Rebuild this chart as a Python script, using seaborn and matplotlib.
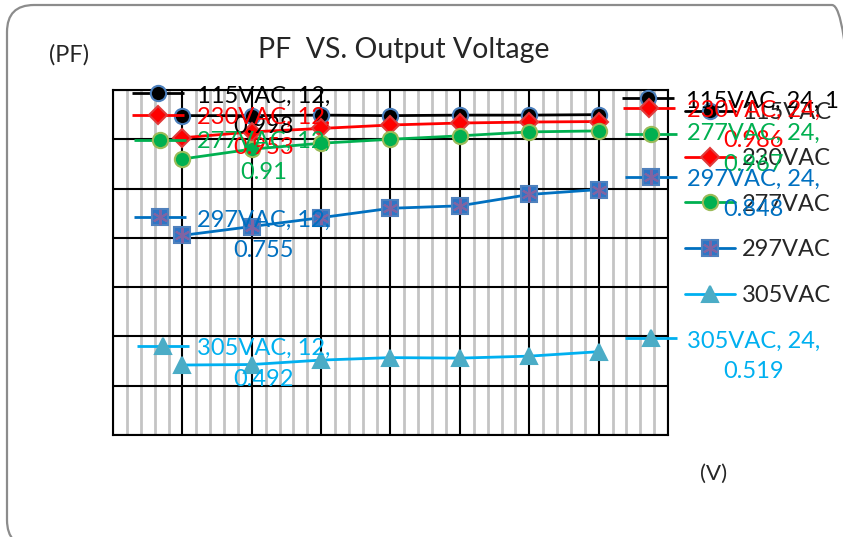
import pandas as pd
import numpy as np
import matplotlib
matplotlib.use('Agg')
import matplotlib.pyplot as plt
import seaborn as sns
from matplotlib.transforms import offset_copy, IdentityTransform
from matplotlib.patches import FancyBboxPatch

# Datos: voltaje de salida (V) y factor de potencia por tension de entrada
voltaje = [12, 14, 16, 18, 20, 22, 24]
series = ['115VAC', '230VAC', '277VAC', '297VAC', '305VAC']
pf_115 = [0.998, 0.998, 0.999, 0.998, 0.999, 0.999, 1.0]
pf_230 = [0.953, 0.965, 0.972, 0.979, 0.983, 0.985, 0.986]
pf_277 = [0.910, 0.930, 0.942, 0.950, 0.957, 0.965, 0.967]
pf_297 = [0.755, 0.773, 0.791, 0.810, 0.815, 0.838, 0.848]
pf_305 = [0.492, 0.493, 0.502, 0.507, 0.506, 0.510, 0.519]
valores = [pf_115, pf_230, pf_277, pf_297, pf_305]

df = pd.DataFrame({
    'Serie': np.repeat(series, len(voltaje)),
    'V': voltaje * len(series),
    'PF': np.concatenate(valores),
})

# Estilos de cada serie
estilo = {
    '115VAC': dict(color='black', marker='o', ms=11, mfc='black', mec='#4a7ebb', txt='black'),
    '230VAC': dict(color='#ff0000', marker='D', ms=9, mfc='#ff0000', mec='#e03a3a', txt='#ff0000'),
    '277VAC': dict(color='#00b050', marker='o', ms=11, mfc='#00b050', mec='#9bbb59', txt='#00b050'),
    '297VAC': dict(color='#0070c0', marker='s', ms=12, mfc='#2e75c6', mec='#4f81bd', txt='#0070c0'),
    '305VAC': dict(color='#00b0f0', marker='^', ms=12, mfc='#4bacc6', mec='#4bacc6', txt='#00b0f0'),
}

# Desplazamientos (px) de las etiquetas: (clave_x, clave_y, texto_x, texto_y)
off_ini = {
    '115VAC': (-24, 23, 81, 4),
    '230VAC': (-24, 23, 81, 5),
    '277VAC': (-22, 19, 81, 2),
    '297VAC': (-22, 18, 81, 0),
    '305VAC': (-19, 19, 81, 1),
}
off_fin = {
    '115VAC': (49, 17, 87, 13),
    '230VAC': (50, 14, 155, -4),
    '277VAC': (52, -3, 155, -18),
    '297VAC': (52, 13, 155, -5),
    '305VAC': (52, 14, 155, -5),
}

sns.set_style('white')
plt.rcParams['font.family'] = ['Lato', 'DejaVu Sans']

fig = plt.figure(figsize=(8.43, 5.37), dpi=100)
W, H = 843, 537
ax = fig.add_axes([113 / W, 1 - 435 / H, (668 - 113) / W, (435 - 90) / H])

# Marco redondeado (en pixeles)
marco = FancyBboxPatch((7, -10), 852, H - 5 + 10, boxstyle='round,pad=0,rounding_size=27',
                       transform=IdentityTransform(), fill=False, ec='#8c8c8c', lw=1.6,
                       clip_on=False, zorder=0)
fig.patches.append(marco)

handles = {}
for s in series:
    e = estilo[s]
    sub = df[df['Serie'] == s]
    sns.lineplot(data=sub, x='V', y='PF', ax=ax, color=e['color'], lw=2.0,
                 marker=e['marker'], markersize=e['ms'], markerfacecolor=e['mfc'],
                 markeredgecolor=e['mec'], markeredgewidth=1.5, zorder=3, label=s, legend=False)
    h = ax.lines[-1]
    if s == '297VAC':
        ast = ax.plot(sub['V'], sub['PF'], ls='none', marker=(6, 2, 0), ms=11,
                      mec='#8064a2', mew=1.5, zorder=4)[0]
        handles[s] = (h, ast)
    else:
        handles[s] = h

# Etiquetas de datos con clave de leyenda
def etiqueta(s, x, y, off, una_linea=False):
    e = estilo[s]
    kx, ky, tx, ty = off
    tr = offset_copy(ax.transData, fig=fig, x=kx, y=ky, units='dots')
    ax.plot([x], [y], transform=tr, marker='_', ms=37, mew=2.0, color=e['color'],
            clip_on=False, zorder=5)
    ax.plot([x], [y], transform=tr, marker=e['marker'], ms=e['ms'], mfc=e['mfc'],
            mec=e['mec'], mew=1.5, ls='none', clip_on=False, zorder=6)
    if s == '297VAC':
        ax.plot([x], [y], transform=tr, marker=(6, 2, 0), ms=11, mec='#8064a2',
                mew=1.5, ls='none', clip_on=False, zorder=7)
    if una_linea:
        texto = f'{s}, {x}, {y:g}'
        ha = 'left'
    else:
        texto = f'{s}, {x},\n{y:g}'
        ha = 'center'
    ax.annotate(texto, xy=(x, y), xytext=(tx, ty), textcoords='offset pixels',
                ha=ha, va='center', multialignment='center', fontsize=17,
                color=e['txt'], annotation_clip=False, zorder=8, linespacing=1.55)

for s, vals in zip(series, valores):
    etiqueta(s, voltaje[0], vals[0], off_ini[s])
    etiqueta(s, voltaje[-1], vals[-1], off_fin[s], una_linea=(s == '115VAC'))

# Ejes y cuadricula
ax.set_xlim(10, 26)
ax.set_ylim(0.35, 1.05)
ax.set_xticks(np.arange(10, 26.1, 2))
ax.set_xticks(np.arange(10, 26.1, 0.4), minor=True)
ax.set_yticks(np.arange(0.35, 1.051, 0.1))
ax.set_axisbelow(True)
ax.grid(which='major', color='black', lw=1.5)
ax.grid(which='minor', axis='x', color='#c4c4c4', lw=2.0)
ax.tick_params(which='both', length=0, labelbottom=False, labelleft=False)
ax.set_xlabel('')
ax.set_ylabel('')
for sp in ax.spines.values():
    sp.set_color('black')
    sp.set_linewidth(1.5)

leg = ax.legend([handles[s] for s in series], series, loc='upper left',
                bbox_to_anchor=(685 / W, 1 - 102 / H), bbox_transform=fig.transFigure,
                frameon=False, fontsize=17, handlelength=2.1, labelspacing=1.05,
                handletextpad=0.3, borderpad=0, borderaxespad=0)

fig.text(404 / W, 1 - 50 / H, 'PF  VS. Output Voltage', ha='center', va='center', fontsize=20.5)
fig.text(69 / W, 1 - 55 / H, '(PF)', ha='center', va='center', fontsize=17)
fig.text(714 / W, 1 - 474 / H, '(V)', ha='center', va='center', fontsize=16)

fig.savefig('out.png', dpi=100)
